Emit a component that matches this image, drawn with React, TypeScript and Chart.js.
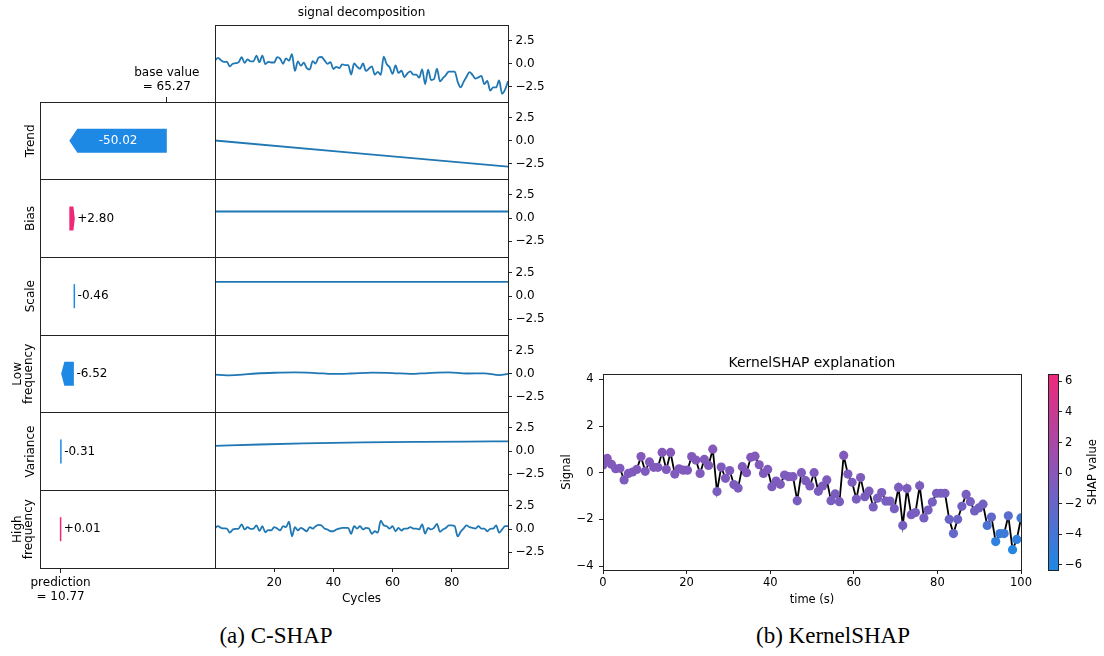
import React, { useEffect, useRef } from "react";
import { Chart, registerables } from "chart.js";

Chart.register(...registerables);

const FONT = "'DejaVu Sans', 'Noto Sans', sans-serif";
Chart.defaults.font.family = FONT;
Chart.defaults.color = "#000";

// ---------------- data ----------------
const SIGNAL = [
  0.33, 0.61, 0.36, 0.17, 0.19, -0.31, -0.03, 0.03, 0.14, 0.69,
  0.06, 0.46, 0.23, 0.23, 0.87, 0.14, 0.87, -0.06, 0.17, 0.11,
  0.11, 0.69, 0.54, -0.03, 0.57, 0.31, 1.01, -0.81, 0.24, -0.24,
  0.09, -0.51, -0.66, 0.26, 0.0, 0.66, 0.71, 0.34, -0.03, 0.14,
  -0.6, -0.36, -0.5, -0.1, -0.17, -0.17, -1.2, 0.0, -0.34, -0.57,
  0.0, -0.8, -0.57, -0.31, -1.2, -0.91, -1.24, 0.74, -0.06, -0.41,
  -1.13, -0.21, -1.03, -0.79, -1.47, -1.09, -0.85, -1.22, -1.22, -1.54,
  -0.63, -2.26, -0.68, -1.8, -1.71, -0.56, -1.94, -1.6, -1.26, -0.88,
  -0.88, -0.88, -2.0, -2.61, -2.0, -1.44, -0.93, -1.24, -1.64, -1.51,
  -1.35, -2.26, -1.9, -2.95, -2.61, -2.61, -1.85, -3.3, -2.86, -1.94,
];

const HIGH_FREQ = [
  0.13, 0.3, 0.13, 0.06, 0.05, -0.4, -0.05, 0.02, 0.05, 0.5,
  -0.05, 0.2, 0.02, 0.05, 0.4, -0.2, 0.3, -0.35, -0.12, -0.15,
  0.2, 0.05, -0.15, 0.3, 0.2, 0.78, -0.78, 0.2, -0.15, 0.12,
  -0.05, -0.24, 0.2, 0.05, 0.3, 0.45, 0.38, 0.05, -0.05, -0.24,
  -0.24, -0.05, 0.05, 0.12, 0.12, 0.12, -0.52, 0.3, 0.05, 0.3,
  -0.05, 0.12, 0.05, -0.52, -0.24, -0.4, 0.9, 0.4, 0.3, 0.05,
  0.3, -0.24, 0.12, -0.16, 0.05, 0.05, 0.2, 0.05, 0.05, -0.05,
  0.5, -0.5, 0.12, -0.05, 0.12, 0.55, -0.3, -0.05, 0.12, 0.38,
  0.38, 0.3, -0.8, -0.3, 0.05, 0.38, 0.2, 0.12, 0.05, 0.3,
  0.05, 0.05, -0.24, 0.02, 0.05, 0.4, -0.4, -0.05, 0.3, 0.3,
];

const CYCLES = SIGNAL.map((_, i) => i);
const TIME = SIGNAL.map((_, i) => (i * 100) / 99);

const TREND_X = [0, 99];
const TREND = [0.0, -2.85];
const FLAT_X = [0, 99];
const BIAS = [0.7, 0.7];
const SCALE = [1.52, 1.52];
const LOW_FREQ_X = [0, 4, 8, 14, 20, 27, 34, 40, 46, 53, 60, 66, 72, 79, 85, 91, 96, 99];
const LOW_FREQ = [-0.12, -0.2, -0.15, 0.0, 0.08, 0.12, 0.05, -0.05, 0.0, 0.1, 0.05, -0.05, 0.05, 0.12, 0.0, 0.02, -0.18, -0.05];
const VARIANCE_X = [0, 15, 30, 50, 70, 85, 99];
const VARIANCE = [0.56, 0.7, 0.82, 0.93, 0.99, 1.02, 1.03];

const DECOMP_TICKS = [-2.5, 0, 2.5];
const CYCLE_TICKS = [20, 40, 60, 80];

const COMPONENT_LABELS = [["Trend"], ["Bias"], ["Scale"], ["Low", "frequency"], ["Variance"], ["High", "frequency"]];
const BASE_VALUE = 65.27;
const PREDICTION = 10.77;
const CONTRIBUTIONS = [-50.02, 2.8, -0.46, -6.52, -0.31, 0.01];
const BASE_LABEL = ["base value", "= 65.27"];
const PRED_LABEL = ["prediction", "= 10.77"];

const SHAP = [
  -0.4, -0.3, -0.4, -0.5, -0.5, -0.7, -0.6, -0.5, -0.5, -0.3,
  -0.5, -0.4, -0.5, -0.5, -0.3, -0.5, -0.3, -0.6, -0.5, -0.5,
  -0.5, -0.3, -0.4, -0.6, -0.4, -0.5, -0.2, -0.8, -0.5, -0.6,
  -0.5, -0.7, -0.7, -0.5, -0.5, -0.4, -0.4, -0.5, -0.6, -0.5,
  -0.7, -0.6, -0.7, -0.6, -0.6, -0.6, -0.9, -0.6, -0.7, -0.7,
  -0.6, -0.8, -0.7, -0.7, -0.9, -0.8, -0.9, -0.4, -0.7, -0.8,
  -0.9, -0.7, -0.9, -0.8, -1.0, -0.9, -0.8, -0.9, -0.9, -1.0,
  -0.8, -1.2, -0.8, -1.0, -1.0, -0.8, -1.1, -1.0, -1.0, -0.9,
  -0.9, -0.9, -1.8, -2.2, -1.8, -1.3, -1.0, -1.1, -1.3, -1.3,
  -1.3, -3.6, -2.4, -5.4, -4.8, -4.6, -2.8, -6.0, -5.3, -4.2,
];
const TIME_TICKS = [0, 20, 40, 60, 80, 100];
const SIGNAL_TICKS = [-4, -2, 0, 2, 4];
const CB_TICKS = [-6, -4, -2, 0, 2, 4, 6];
const CB_MIN = -6.33;
const CB_MAX = 6.48;

// ---------------- styles ----------------
const C0 = "#1f77b4";
const BLUE = "#1e88e5";
const PINK = "#ee2a78";
const SPINE = "#222";
const CMAP: [number, number[]][] = [
  [0, [30, 136, 229]],
  [0.5, [138, 86, 184]],
  [1, [240, 40, 122]],
];

function cmap(v: number) {
  const t = Math.max(0, Math.min(1, (v - CB_MIN) / (CB_MAX - CB_MIN)));
  for (let k = 0; k < CMAP.length - 1; k++) {
    const [t0, c0] = CMAP[k];
    const [t1, c1] = CMAP[k + 1];
    if (t <= t1) {
      const f = (t - t0) / (t1 - t0);
      const c = c0.map((a, j) => Math.round(a + (c1[j] - a) * f));
      return `rgb(${c[0]},${c[1]},${c[2]})`;
    }
  }
  const c = CMAP[CMAP.length - 1][1];
  return `rgb(${c[0]},${c[1]},${c[2]})`;
}

const minus = (s: string) => s.replace("-", "\u2212");
const toXY = (xs: number[], ys: number[]) => ys.map((y, i) => ({ x: xs[i], y }));

const framePlugin = {
  id: "frame",
  afterDraw(chart: any) {
    const { ctx, chartArea: a } = chart;
    ctx.save();
    ctx.strokeStyle = SPINE;
    ctx.lineWidth = 1;
    ctx.strokeRect(
      Math.round(a.left) + 0.5,
      Math.round(a.top) + 0.5,
      Math.round(a.right - a.left),
      Math.round(a.bottom - a.top)
    );
    ctx.restore();
  },
};

const fixTicks = (values: number[]) => (s: any) => {
  s.ticks = values.map((v) => ({ value: v }));
};
const fixSize = (prop: "width" | "height", size: number) => (s: any) => {
  if (s.options.display === false) return;
  s[prop] = size;
  s.paddingLeft = 0;
  s.paddingRight = 0;
  s.paddingTop = 0;
  s.paddingBottom = 0;
};
// an empty axis that only reserves room, so that a title is centred over the plot
const spacerAxis = (position: string, size: number) => ({
  type: "linear",
  position,
  display: true,
  min: 0,
  max: 1,
  ticks: { display: false },
  grid: { display: false },
  border: { display: false },
  afterFit: fixSize(position === "left" || position === "right" ? "width" : "height", size),
});

const baseOptions = {
  responsive: false,
  animation: false as const,
  devicePixelRatio: 1,
  events: [] as any[],
};

type Rect = { left: number; top: number; width: number; height: number };

function ChartCanvas({ rect, config }: { rect: Rect; config: () => any }) {
  const ref = useRef<HTMLCanvasElement>(null);
  useEffect(() => {
    const chart = new Chart(ref.current as HTMLCanvasElement, config());
    return () => chart.destroy();
  }, []);
  return (
    <canvas
      ref={ref}
      width={rect.width}
      height={rect.height}
      style={{ position: "absolute", left: rect.left, top: rect.top, width: rect.width, height: rect.height }}
    />
  );
}

// ---------------- layout constants ----------------
const M = 6;
const LEFT_X0 = 40;
const MID_X = 215;
const RIGHT_X1 = 508;
const TOP_PANEL_Y = 25;
const ROWS_TOP = 102;
const ROWS_BOTTOM = 568;
const ROW_BOUNDS = [0, 1, 2, 3, 4, 5, 6].map((k) =>
  Math.round(ROWS_TOP + (k * (ROWS_BOTTOM - ROWS_TOP)) / 6 - 0.5)
);
const LEFT_FONT = 12;
const DECOMP_AXIS_W = 50;

// ---------------- C-SHAP: waterfall ----------------
const waterfallRanges = (() => {
  let cur = BASE_VALUE;
  return CONTRIBUTIONS.map((c) => {
    const r = [cur, cur + c];
    cur += c;
    return r;
  });
})();

const waterfallPlugin = {
  id: "waterfall",
  afterDatasetsDraw(chart: any) {
    const { ctx } = chart;
    const xs = chart.scales.x;
    const meta = chart.getDatasetMeta(0);
    const ranges = chart.data.datasets[0].data;
    ctx.save();
    ctx.font = `${LEFT_FONT}px ${FONT}`;
    meta.data.forEach((el: any, i: number) => {
      const [s, e] = ranges[i];
      const c = CONTRIBUTIONS[i];
      const ps = xs.getPixelForValue(s);
      const pe = xs.getPixelForValue(e);
      const { y, height } = el.getProps(["y", "height"], true);
      const top = y - height / 2;
      const bot = y + height / 2;
      const w = Math.abs(pe - ps);
      const dir = pe >= ps ? 1 : -1;
      ctx.fillStyle = c >= 0 ? PINK : BLUE;
      let rightEdge: number;
      if (w < 1.5) {
        const mid = (ps + pe) / 2;
        ctx.fillRect(mid - 0.75, top, 1.5, height);
        rightEdge = mid + 0.75;
      } else {
        const head = Math.min(8, w * 0.25);
        ctx.beginPath();
        ctx.moveTo(ps, top);
        ctx.lineTo(pe - dir * head, top);
        ctx.lineTo(pe, y);
        ctx.lineTo(pe - dir * head, bot);
        ctx.lineTo(ps, bot);
        ctx.closePath();
        ctx.fill();
        rightEdge = Math.max(ps, pe);
      }
      const text = (c >= 0 ? "+" : "") + c.toFixed(2);
      const tw = ctx.measureText(text).width;
      ctx.textBaseline = "middle";
      if (w > tw + 16) {
        ctx.fillStyle = "#fff";
        ctx.textAlign = "center";
        ctx.fillText(text, (ps + pe) / 2, y);
      } else {
        ctx.fillStyle = "#000";
        ctx.textAlign = "left";
        ctx.fillText(text, rightEdge + 2.5, y);
      }
    });
    ctx.restore();
  },
};

const rowLabelPlugin = {
  id: "rowLabels",
  afterDraw(chart: any) {
    const { ctx } = chart;
    const ys = chart.scales.y;
    ctx.save();
    ctx.font = `${LEFT_FONT}px ${FONT}`;
    ctx.fillStyle = "#000";
    ctx.textAlign = "center";
    ctx.textBaseline = "alphabetic";
    COMPONENT_LABELS.forEach((lines, i) => {
      const yc = ys.getPixelForValue(i);
      const baselines = lines.length === 1 ? [33.5] : [20.5, 32];
      lines.forEach((t, k) => {
        ctx.save();
        ctx.translate(baselines[k], yc);
        ctx.rotate(-Math.PI / 2);
        ctx.fillText(t, 0, 0);
        ctx.restore();
      });
    });
    ctx.restore();
  },
};

const WF_TOP = 50;
const wfRect: Rect = { left: 0, top: WF_TOP, width: MID_X + M, height: ROWS_BOTTOM - WF_TOP + 45 };

const waterfallConfig = () => {
  const tickAxis = (position: string, value: number, label: string[]) => ({
    type: "linear",
    position,
    min: 0.2,
    max: 90.0,
    afterBuildTicks: fixTicks([value]),
    afterFit: fixSize("height", position === "top" ? ROWS_TOP - WF_TOP : 45),
    ticks: { callback: () => label, padding: 2.7, font: { size: LEFT_FONT }, color: "#000" },
    grid: { drawOnChartArea: false, drawTicks: true, tickLength: 5, color: SPINE, lineWidth: 1 },
    border: { display: false },
  });
  return {
    type: "bar",
    data: {
      labels: COMPONENT_LABELS,
      datasets: [
        {
          data: waterfallRanges,
          backgroundColor: "rgba(0,0,0,0)",
          borderWidth: 0,
          barPercentage: 0.31,
          categoryPercentage: 1,
          xAxisID: "x",
          yAxisID: "y",
        },
      ],
    },
    options: {
      ...baseOptions,
      indexAxis: "y",
      layout: { padding: { left: 0, top: 0, right: M, bottom: 0 } },
      plugins: { legend: { display: false }, tooltip: { enabled: false } },
      scales: {
        x: tickAxis("bottom", PREDICTION, PRED_LABEL),
        xTop: tickAxis("top", BASE_VALUE, BASE_LABEL),
        y: {
          type: "category",
          position: "left",
          offset: true,
          afterFit: fixSize("width", LEFT_X0),
          ticks: { display: false },
          grid: {
            offset: true,
            drawOnChartArea: true,
            drawTicks: false,
            // the outer edges are drawn by the frame; only the row separators come from the grid
            color: (c: any) =>
              c.index === 0 || c.index >= COMPONENT_LABELS.length ? "rgba(0,0,0,0)" : SPINE,
            lineWidth: 1,
          },
          border: { display: false },
        },
      },
    },
    plugins: [waterfallPlugin, rowLabelPlugin, framePlugin],
  };
};

// ---------------- C-SHAP: decomposition panels ----------------
const PANEL_SERIES = [
  { xs: CYCLES, ys: SIGNAL, tension: 0 },
  { xs: TREND_X, ys: TREND, tension: 0 },
  { xs: FLAT_X, ys: BIAS, tension: 0 },
  { xs: FLAT_X, ys: SCALE, tension: 0 },
  { xs: LOW_FREQ_X, ys: LOW_FREQ, tension: 0.4 },
  { xs: VARIANCE_X, ys: VARIANCE, tension: 0.4 },
  { xs: CYCLES, ys: HIGH_FREQ, tension: 0 },
];

function decompPanel(i: number) {
  const isTop = i === 0;
  const isBottom = i === 6;
  const top = isTop ? TOP_PANEL_Y : ROW_BOUNDS[i - 1];
  const bottom = isTop ? ROWS_TOP : ROW_BOUNDS[i];
  const h = bottom - top;
  const titleH = isTop ? TOP_PANEL_Y : 0;
  const padTop = isTop ? 0 : M;
  const bottomExtra = isBottom ? 40 : M;
  const rect: Rect = {
    left: MID_X - DECOMP_AXIS_W,
    top: top - titleH - padTop,
    width: DECOMP_AXIS_W + (RIGHT_X1 - MID_X) + DECOMP_AXIS_W,
    height: padTop + titleH + h + bottomExtra,
  };
  const s = PANEL_SERIES[i];
  const config = () => ({
    type: "scatter",
    data: {
      datasets: [
        {
          data: toXY(s.xs, s.ys),
          showLine: true,
          borderColor: C0,
          borderWidth: 1.8,
          pointRadius: 0,
          tension: s.tension,
          cubicInterpolationMode: "monotone",
          fill: false,
          xAxisID: "x",
          yAxisID: "y",
        },
      ],
    },
    options: {
      ...baseOptions,
      layout: { padding: { left: 0, top: padTop, right: 0, bottom: isBottom ? 0 : M } },
      plugins: {
        legend: { display: false },
        tooltip: { enabled: false },
        title: {
          display: isTop,
          text: "signal decomposition",
          font: { size: LEFT_FONT, weight: "normal" },
          color: "#000",
          padding: { top: 6, bottom: TOP_PANEL_Y - 6 - LEFT_FONT * 1.2 },
        },
      },
      scales: {
        x: {
          type: "linear",
          display: isBottom,
          min: 0,
          max: 99,
          afterBuildTicks: fixTicks(CYCLE_TICKS),
          afterFit: fixSize("height", 40),
          ticks: { padding: 3.8, font: { size: LEFT_FONT }, color: "#000", callback: (v: number) => String(v) },
          grid: { drawOnChartArea: false, drawTicks: true, tickLength: 4, color: SPINE },
          border: { display: false },
          title: {
            display: true,
            text: "Cycles",
            font: { size: LEFT_FONT },
            color: "#000",
            padding: { top: 0, bottom: 1.8 },
          },
        },
        y: {
          type: "linear",
          position: "right",
          min: -4.2,
          max: 4.2,
          afterBuildTicks: fixTicks(DECOMP_TICKS),
          afterFit: fixSize("width", DECOMP_AXIS_W),
          ticks: {
            padding: 3.5,
            font: { size: LEFT_FONT },
            color: "#000",
            callback: (v: number) => minus(v.toFixed(1)),
          },
          grid: { drawOnChartArea: false, drawTicks: true, tickLength: 4, color: SPINE },
          border: { display: false },
        },
        ySpacer: spacerAxis("left", DECOMP_AXIS_W),
      },
    },
    plugins: [framePlugin],
  });
  return { rect, config };
}

// ---------------- KernelSHAP ----------------
const K_LEFT = 603;
const K_RIGHT = 1021;
const K_TOP = 374;
const K_BOTTOM = 570;
const K_FONT = 11.5;
const K_TITLE_FONT = 13.9;
const K_CANVAS_LEFT = 540;
const K_CANVAS_TOP = 340;
const K_AXIS_W = K_LEFT - K_CANVAS_LEFT;
const kRect: Rect = {
  left: K_CANVAS_LEFT,
  top: K_CANVAS_TOP,
  width: K_RIGHT - K_CANVAS_LEFT + K_AXIS_W,
  height: K_BOTTOM - K_CANVAS_TOP + 40,
};

const kernelConfig = () => ({
  type: "scatter",
  data: {
    datasets: [
      {
        data: toXY(TIME, SIGNAL),
        showLine: true,
        borderColor: "#000",
        borderWidth: 1.8,
        pointRadius: 4.6,
        pointBackgroundColor: SHAP.map(cmap),
        pointBorderWidth: 0,
        pointBorderColor: "rgba(0,0,0,0)",
        clip: 0,
        xAxisID: "x",
        yAxisID: "y",
      },
    ],
  },
  options: {
    ...baseOptions,
    layout: { padding: { left: 0, top: 0, right: 0, bottom: 0 } },
    plugins: {
      legend: { display: false },
      tooltip: { enabled: false },
      title: {
        display: true,
        text: "KernelSHAP explanation",
        font: { size: K_TITLE_FONT, weight: "normal" },
        color: "#000",
        padding: { top: 15, bottom: K_TOP - K_CANVAS_TOP - 15 - K_TITLE_FONT * 1.2 },
      },
    },
    scales: {
      x: {
        type: "linear",
        min: 0,
        max: 100,
        afterBuildTicks: fixTicks(TIME_TICKS),
        afterFit: fixSize("height", 40),
        ticks: { padding: 2.4, font: { size: K_FONT }, color: "#000", callback: (v: number) => String(v) },
        grid: { drawOnChartArea: false, drawTicks: true, tickLength: 4, color: SPINE },
        border: { display: false },
        title: {
          display: true,
          text: "time (s)",
          font: { size: K_FONT },
          color: "#000",
          padding: { top: 0, bottom: 3.1 },
        },
      },
      y: {
        type: "linear",
        position: "left",
        min: -4.17,
        max: 4.23,
        afterBuildTicks: fixTicks(SIGNAL_TICKS),
        afterFit: fixSize("width", K_AXIS_W),
        ticks: { padding: 5.5, font: { size: K_FONT }, color: "#000", callback: (v: number) => minus(String(v)) },
        grid: { drawOnChartArea: false, drawTicks: true, tickLength: 4, color: SPINE },
        border: { display: false },
        title: {
          display: true,
          text: "Signal",
          font: { size: K_FONT },
          color: "#000",
          padding: { top: 20, bottom: 0 },
        },
      },
      ySpacer: spacerAxis("right", K_AXIS_W),
    },
  },
  plugins: [framePlugin],
});

// ---------------- colorbar ----------------
const CB_LEFT = 1048;
const CB_RIGHT = 1058;
const cbRect: Rect = { left: CB_LEFT - 8, top: K_TOP - 8, width: 8 + (CB_RIGHT - CB_LEFT) + 42, height: K_BOTTOM - K_TOP + 16 };

const cbLabelPlugin = {
  id: "cbLabel",
  afterDraw(chart: any) {
    const { ctx, chartArea: a } = chart;
    ctx.save();
    ctx.font = `${K_FONT}px ${FONT}`;
    ctx.fillStyle = "#000";
    ctx.textAlign = "center";
    ctx.textBaseline = "middle";
    ctx.translate(1093 - cbRect.left, (a.top + a.bottom) / 2);
    ctx.rotate(-Math.PI / 2);
    ctx.fillText("SHAP value", 0, 0);
    ctx.restore();
  },
};

const colorbarConfig = () => ({
  type: "bar",
  data: {
    labels: ["SHAP value"],
    datasets: [
      {
        data: [[CB_MIN, CB_MAX]],
        backgroundColor: (c: any) => {
          const chart = c.chart;
          if (!chart.chartArea) return BLUE;
          const ys = chart.scales.y;
          const g = chart.ctx.createLinearGradient(0, ys.getPixelForValue(CB_MIN), 0, ys.getPixelForValue(CB_MAX));
          CMAP.forEach(([t, col]) => g.addColorStop(t, `rgb(${col[0]},${col[1]},${col[2]})`));
          return g;
        },
        borderWidth: 0,
        barPercentage: 1,
        categoryPercentage: 1,
      },
    ],
  },
  options: {
    ...baseOptions,
    layout: { padding: { left: 8, top: 8, right: 0, bottom: 8 } },
    plugins: { legend: { display: false }, tooltip: { enabled: false } },
    scales: {
      x: { display: false, offset: true },
      y: {
        type: "linear",
        position: "right",
        min: CB_MIN,
        max: CB_MAX,
        afterBuildTicks: fixTicks(CB_TICKS),
        afterFit: fixSize("width", 42),
        ticks: { padding: 3, font: { size: K_FONT }, color: "#000", callback: (v: number) => minus(String(v)) },
        grid: { drawOnChartArea: false, drawTicks: true, tickLength: 4, color: SPINE },
        border: { display: false },
      },
    },
  },
  plugins: [framePlugin, cbLabelPlugin],
});

// ---------------- app ----------------
const captionStyle = (center: number): React.CSSProperties => ({
  position: "absolute",
  left: center - 150,
  width: 300,
  top: 622,
  textAlign: "center",
  fontFamily: "'Liberation Serif', 'Times New Roman', serif",
  fontSize: 23,
  lineHeight: "28px",
  color: "#000",
  whiteSpace: "nowrap",
});

export default function App() {
  const panels = [0, 1, 2, 3, 4, 5, 6].map((i) => decompPanel(i));
  return (
    <div
      style={{
        position: "fixed",
        left: 0,
        top: 0,
        width: 1104,
        height: 656,
        background: "#fff",
        overflow: "hidden",
      }}
    >
      {panels.map((p, i) => (
        <ChartCanvas key={i} rect={p.rect} config={p.config} />
      ))}
      <ChartCanvas rect={wfRect} config={waterfallConfig} />
      <ChartCanvas rect={kRect} config={kernelConfig} />
      <ChartCanvas rect={cbRect} config={colorbarConfig} />
      <div style={captionStyle(276)}>(a) C-SHAP</div>
      <div style={captionStyle(833)}>(b) KernelSHAP</div>
    </div>
  );
}
